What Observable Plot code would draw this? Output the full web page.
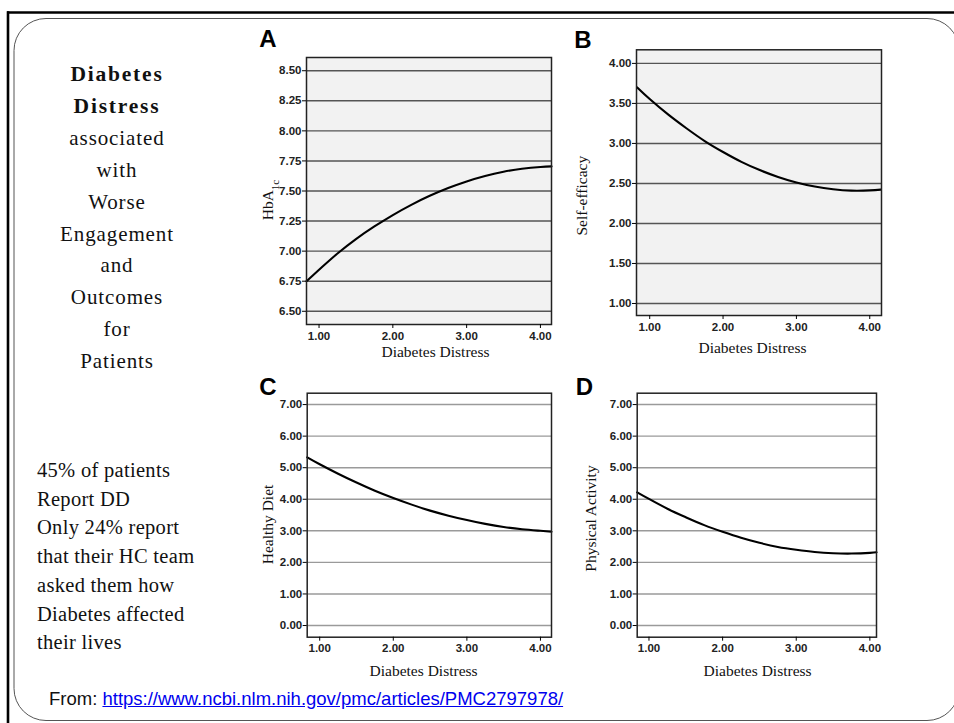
<!DOCTYPE html>
<html>
<head>
<meta charset="utf-8">
<script src="https://cdn.jsdelivr.net/npm/d3@7"></script>
<script src="https://cdn.jsdelivr.net/npm/@observablehq/plot@0.6"></script>
<style>
  html, body { margin: 0; padding: 0; background: #fff; }
  #slide { position: relative; width: 954px; height: 723px; overflow: hidden; background: #fff; }
  .abs { position: absolute; }
  #deco { position: absolute; left: 0; top: 0; }
  #headline { position: absolute; left: 17px; width: 200px; top: 59px; text-align: center;
    font-family: "Liberation Serif", "Times New Roman", serif; font-size: 21px; line-height: 31.9px;
    color: #111; letter-spacing: 0.9px; }
  #headline b { letter-spacing: 1.8px; font-size: 21.5px; }
  #notes { position: absolute; left: 37px; top: 456px; font-family: "Liberation Serif", "Times New Roman", serif;
    font-size: 20.5px; line-height: 28.7px; color: #111; letter-spacing: 0.3px; }
  #source { position: absolute; left: 49px; top: 688px; font-family: "Liberation Sans", Arial, sans-serif;
    font-size: 18.5px; color: #111; white-space: nowrap; }
  #source a { color: #0000ee; text-decoration: underline; }
</style>
</head>
<body>
<div id="slide">
  <svg id="deco" width="954" height="723">
    <line x1="7" y1="12.5" x2="954" y2="12.5" stroke="#000" stroke-width="2.6"/>
    <line x1="8" y1="11.3" x2="8" y2="723" stroke="#000" stroke-width="2.6"/>
    <rect x="14" y="18.5" width="945" height="702" rx="32" ry="32" fill="none" stroke="#555" stroke-width="1"/>
  </svg>
  <div id="headline"><b>Diabetes<br>Distress</b><br>associated<br>with<br>Worse<br>Engagement<br>and<br>Outcomes<br>for<br>Patients</div>
  <div id="notes">45% of patients<br>Report DD<br>Only 24% report<br>that their HC team<br>asked them how<br>Diabetes affected<br>their lives</div>
  <div id="source">From: <a href="https://www.ncbi.nlm.nih.gov/pmc/articles/PMC2797978/">https://www.ncbi.nlm.nih.gov/pmc/articles/PMC2797978/</a></div>
</div>
<script>
// ---- data ----
const distressABC = [0.83, 1.0, 1.25, 1.5, 1.75, 2.0, 2.25, 2.5, 2.75, 3.0, 3.25, 3.5, 3.75, 4.0, 4.15];
const distressD   = [0.84, 1.0, 1.25, 1.5, 1.75, 2.0, 2.25, 2.5, 2.75, 3.0, 3.25, 3.5, 3.75, 4.0, 4.09];
const hba1c        = [6.75, 6.845, 6.98, 7.10, 7.205, 7.30, 7.385, 7.46, 7.525, 7.58, 7.625, 7.66, 7.685, 7.70, 7.705];
const selfEfficacy = [3.70, 3.555, 3.363, 3.19, 3.03, 2.893, 2.77, 2.667, 2.581, 2.512, 2.461, 2.427, 2.41, 2.413, 2.423];
const healthyDiet  = [5.33, 5.11, 4.81, 4.53, 4.27, 4.04, 3.83, 3.64, 3.48, 3.34, 3.22, 3.12, 3.05, 3.00, 2.97];
const physicalActivity = [4.22, 4.01, 3.70, 3.43, 3.18, 2.97, 2.78, 2.62, 2.49, 2.40, 2.33, 2.29, 2.28, 2.30, 2.32];

const xTicks = [1, 2, 3, 4];
const yTicksA = [6.5, 6.75, 7.0, 7.25, 7.5, 7.75, 8.0, 8.25, 8.5];
const yTicksB = [1.0, 1.5, 2.0, 2.5, 3.0, 3.5, 4.0];
const yTicksCD = [0, 1, 2, 3, 4, 5, 6, 7];

const xLabel = "Diabetes Distress";
const panelLetters = ["A", "B", "C", "D"];
const yLabels = ["HbA1c", "Self-efficacy", "Healthy Diet", "Physical Activity"];

const fmt = d3.format(".2f");
const SANS = "'Liberation Sans', Arial, sans-serif";
const SERIF = "'Liberation Serif', 'Times New Roman', serif";

function panel(p) {
  const rows = p.xs.map((x, i) => ({x, y: p.ys[i]}));
  const marks = [];
  if (p.bg) marks.push(Plot.frame({fill: p.bg, stroke: null}));
  marks.push(
    Plot.ruleY(p.yTicks, {stroke: p.grid, strokeWidth: 1.4}),
    Plot.line(rows, {x: "x", y: "y", stroke: "#000", strokeWidth: 2.1, curve: "natural"}),
    Plot.frame({stroke: "#222", strokeWidth: 1.5}),
    Plot.axisY({ticks: p.yTicks, tickSize: 4, tickPadding: 1, tickFormat: fmt, label: null,
      fontSize: 11.5, fontWeight: "bold", fontFamily: SANS, fill: "#222"}),
    Plot.axisX({ticks: xTicks, tickSize: 4, tickPadding: 3, tickFormat: fmt, label: null,
      fontSize: 11.5, fontWeight: "bold", fontFamily: SANS, fill: "#222"}),
    Plot.text([p.letter], {frameAnchor: "top-left", dx: p.letterD[0], dy: p.letterD[1],
      textAnchor: "middle", lineAnchor: "middle", fontSize: 24, fontWeight: "bold", fontFamily: SANS, fill: "#000"}),
    Plot.text([p.yLabel], {frameAnchor: "left", dx: p.yLabD[0], dy: p.yLabD[1], rotate: -90,
      textAnchor: "middle", lineAnchor: "middle", fontSize: 15.5, fontFamily: SERIF, fill: "#111"}),
    Plot.text([xLabel], {frameAnchor: "bottom", dx: p.xLabD[0], dy: p.xLabD[1],
      textAnchor: "middle", lineAnchor: "middle", fontSize: 15.5, fontFamily: SERIF, fill: "#111"})
  );
  const svg = Plot.plot({
    width: p.w, height: p.h,
    marginLeft: p.m[0], marginRight: p.m[1], marginTop: p.m[2], marginBottom: p.m[3],
    x: {domain: p.xDomain},
    y: {domain: p.yDomain},
    style: {background: "transparent", overflow: "visible"},
    marks
  });
  svg.querySelectorAll("text").forEach(t => {
    if (t.textContent === "HbA1c") {
      t.innerHTML = 'HbA<tspan baseline-shift="sub" font-size="11">1c</tspan>';
    }
  });
  svg.classList.add("abs");
  svg.style.left = p.left + "px";
  svg.style.top = p.top + "px";
  document.getElementById("slide").appendChild(svg);
}

panel({left: 240, top: 20, w: 320, h: 350, m: [66, 9, 37, 46],
  xs: distressABC, ys: hba1c, xDomain: [0.83, 4.15], yDomain: [6.39, 8.61],
  yTicks: yTicksA, bg: "#f2f2f2", grid: "#555",
  letter: panelLetters[0], letterD: [-38.5, -18.5], yLabel: yLabels[0], yLabD: [-38, 9], xLabD: [6.5, 28]});

panel({left: 560, top: 20, w: 330, h: 350, m: [76, 9, 29.3, 55],
  xs: distressABC, ys: selfEfficacy, xDomain: [0.82, 4.16], yDomain: [0.85, 4.17],
  yTicks: yTicksB, bg: "#f2f2f2", grid: "#555",
  letter: panelLetters[1], letterD: [-53.5, -9.3], yLabel: yLabels[1], yLabD: [-54, 13], xLabD: [-6.5, 33]});

panel({left: 240, top: 370, w: 320, h: 320, m: [66.7, 9, 22.7, 53.3],
  xs: distressABC, ys: healthyDiet, xDomain: [0.83, 4.15], yDomain: [-0.37, 7.36],
  yTicks: yTicksCD, bg: null, grid: "#9a9a9a",
  letter: panelLetters[2], letterD: [-39.2, -6.2], yLabel: yLabels[2], yLabD: [-38.7, 9.3], xLabD: [-5.8, 34.3]});

panel({left: 560, top: 370, w: 330, h: 320, m: [76.7, 14, 22.7, 53.3],
  xs: distressD, ys: physicalActivity, xDomain: [0.84, 4.09], yDomain: [-0.37, 7.36],
  yTicks: yTicksCD, bg: null, grid: "#9a9a9a",
  letter: panelLetters[3], letterD: [-52.7, -6.2], yLabel: yLabels[3], yLabD: [-45.7, 3.3], xLabD: [0.7, 34.3]});
</script>
</body>
</html>
